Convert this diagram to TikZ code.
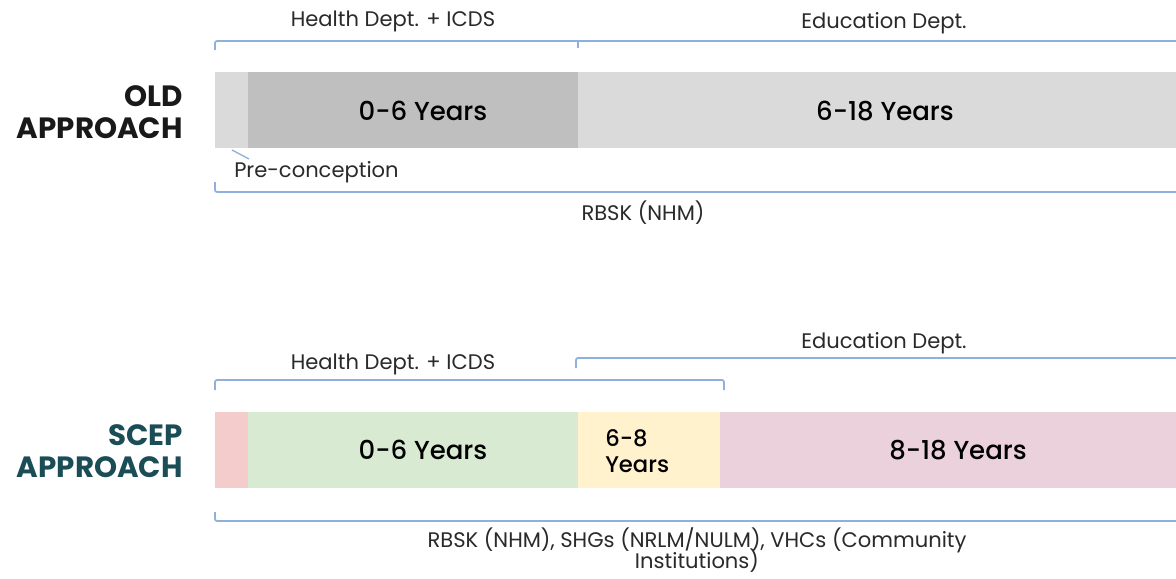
\documentclass[tikz,border=0pt]{standalone}
\usepackage{fontspec}
\setmainfont{Poppins}
\newfontfamily\pmed{Poppins Medium}
\begin{document}
\begin{tikzpicture}[x=0.75pt,y=-0.75pt,
  brk/.style={draw=brkblue,line width=1.3pt,rounded corners=1.5pt},
  small/.style={font=\fontsize{15.8}{16.5}\selectfont,text=txtgray,inner sep=0pt},
  yrs/.style={font=\pmed\fontsize{19.5}{23}\selectfont,text=black,inner sep=0pt},
  head/.style={font=\bfseries\fontsize{22}{24.5}\selectfont,align=right,inner sep=0pt,anchor=east}]
\definecolor{brkblue}{HTML}{8FB0DD}
\definecolor{txtgray}{HTML}{2A2A2A}
\definecolor{gA}{HTML}{DADADA}
\definecolor{gB}{HTML}{BFBFBF}
\definecolor{pinkA}{HTML}{F4CCCC}
\definecolor{greenA}{HTML}{D9EAD3}
\definecolor{yellowA}{HTML}{FFF2CC}
\definecolor{mauveA}{HTML}{EAD1DC}
\definecolor{teal}{HTML}{1B4D57}
\useasboundingbox[fill=white] (0,0) rectangle (1176,578);
% ---------- OLD APPROACH ----------
\node[head,text=black!90] (oldhead) at (183,112) {OLD\\APPROACH};
\fill[gA] (215,72) rectangle (248,148);
\fill[gB] (248,72) rectangle (578,148);
\fill[gA] (578,72) rectangle (1176,148);
\node[yrs] (old06) at (423,111) {0-6 Years};
\node[yrs] (old618) at (885,111) {6-18 Years};
% top bracket
\coordinate (ot1) at (215,50);
\coordinate (ot2) at (215,41);
\coordinate (ot3) at (1176,41);
\coordinate (otm1) at (578,41);
\coordinate (otm2) at (578,48);
\draw[brk] (ot1) -- (ot2) -- (ot3);
\draw[brk] (otm1) -- (otm2);
\node[small] (oldhealth) at (393,21) {Health Dept. + ICDS};
\node[small] (oldedu) at (884,23) {Education Dept.};
% pre-conception
\node[small,anchor=west] (precon) at (234,172) {Pre-conception};
\coordinate (pc1) at (232,150);
\coordinate (pc2) at (249,159);
\draw[brkblue,line width=1pt] (pc1) -- (pc2);
% bottom bracket
\coordinate (ob1) at (215,182);
\coordinate (ob2) at (215,192);
\coordinate (ob3) at (1176,192);
\draw[brk] (ob1) -- (ob2) -- (ob3);
\node[small] (oldrbsk) at (643,213) {RBSK (NHM)};
% ---------- SCEP APPROACH ----------
\node[head,text=teal] (scephead) at (183,451) {SCEP\\APPROACH};
\fill[pinkA] (215,412) rectangle (248,488);
\fill[greenA] (248,412) rectangle (578,488);
\fill[yellowA] (578,412) rectangle (720,488);
\fill[mauveA] (720,412) rectangle (1176,488);
\node[yrs] (new06) at (423,450) {0-6 Years};
\node[yrs,align=left,anchor=west,font=\pmed\fontsize{17}{20}\selectfont] (new68) at (605,451) {6-8\\Years};
\node[yrs] (new818) at (958,450) {8-18 Years};
% health bracket
\coordinate (nh1) at (215,390);
\coordinate (nh2) at (215,380);
\coordinate (nh3) at (724,380);
\coordinate (nh4) at (724,390);
\draw[brk] (nh1) -- (nh2) -- (nh3) -- (nh4);
\node[small] (newhealth) at (393,364) {Health Dept. + ICDS};
% education bracket
\coordinate (ne1) at (576,368);
\coordinate (ne2) at (576,358);
\coordinate (ne3) at (1176,358);
\draw[brk] (ne1) -- (ne2) -- (ne3);
\node[small] (newedu) at (884,343) {Education Dept.};
% bottom bracket
\coordinate (nb1) at (215,512);
\coordinate (nb2) at (215,521);
\coordinate (nb3) at (1176,521);
\draw[brk] (nb1) -- (nb2) -- (nb3);
\node[small,align=center] (newrbsk) at (697,550) {RBSK (NHM), SHGs (NRLM/NULM), VHCs (Community\\[-3.5pt]Institutions)};
\end{tikzpicture}
\end{document}
